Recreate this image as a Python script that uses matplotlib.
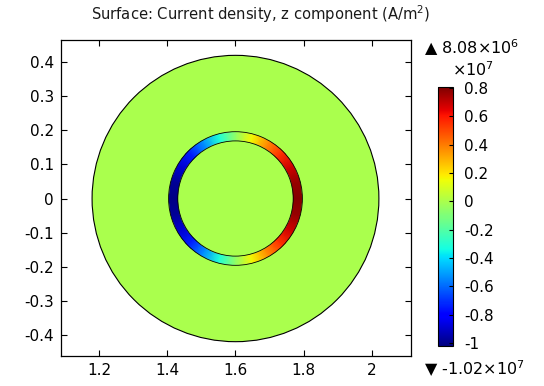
import numpy as np
import matplotlib
matplotlib.use("Agg")
from matplotlib import pyplot as plt
from matplotlib.patches import Circle, Wedge
from matplotlib.colors import Normalize
from matplotlib.cm import ScalarMappable

plt.rcParams['axes.unicode_minus'] = False
plt.rcParams['font.family'] = ['DejaVu Sans']

# geometry (m)
center = (1.6, 0.0)
r_outer = 0.42
r_ring_in = 0.169
r_ring_out = 0.196

# Jz on the ring (1e7 A/m^2) at each angle (deg)
ring_angle = [0, 15, 30, 45, 60, 75, 90, 105, 120, 135, 150, 165, 180,
              195, 210, 225, 240, 255, 270, 285, 300, 315, 330, 345, 360]
ring_jz = [0.80, 0.77, 0.68, 0.55, 0.37, 0.16, -0.06, -0.31, -0.53, -0.74, -0.89, -0.98, -1.01,
           -0.98, -0.89, -0.74, -0.53, -0.31, -0.06, 0.16, 0.37, 0.55, 0.68, 0.77, 0.80]
jz_background = 0.0
jz_max = 0.808
jz_min = -1.02

cb_ticks = [0.8, 0.6, 0.4, 0.2, 0, -0.2, -0.4, -0.6, -0.8, -1]
x_ticks = [1.2, 1.4, 1.6, 1.8, 2.0]
y_ticks = [-0.4, -0.3, -0.2, -0.1, 0, 0.1, 0.2, 0.3, 0.4]

cmap = plt.get_cmap('jet')
norm = Normalize(vmin=jz_min, vmax=jz_max)

fig = plt.figure(figsize=(5.44, 3.86), dpi=100)
ax = fig.add_axes([61/544, 30/386, 350/544, 316/386])

# outer domain
disk = Circle(center, r_outer, facecolor=cmap(norm(jz_background)),
              edgecolor='black', lw=0.8, zorder=1)
ax.add_patch(disk)

# ring, drawn a bit too wide then clipped to the exact annulus
th = np.deg2rad(np.array(ring_angle))
rr = np.array([r_ring_in - 0.006, r_ring_out + 0.01])
TH, RR = np.meshgrid(th, rr)
X = center[0] + RR * np.cos(TH)
Y = center[1] + RR * np.sin(TH)
C = np.vstack([ring_jz, ring_jz])
mesh = ax.pcolormesh(X, Y, C, cmap=cmap, norm=norm, shading='gouraud', zorder=2)
ring = Wedge(center, r_ring_out, 0, 360, width=r_ring_out - r_ring_in,
             facecolor='none', edgecolor='black', lw=0.6, zorder=3)
ax.add_patch(ring)
mesh.set_clip_path(ring)

ax.set_xlim(1.089, 2.114)
ax.set_ylim(-0.462, 0.465)
ax.set_xticks(x_ticks)
ax.set_xticklabels(['1.2', '1.4', '1.6', '1.8', '2'])
ax.set_yticks(y_ticks)
ax.set_yticklabels(['-0.4', '-0.3', '-0.2', '-0.1', '0', '0.1', '0.2', '0.3', '0.4'])
ax.tick_params(direction='in', length=4, width=0.8, top=True, right=True,
               labelsize=11, colors='black', pad=5)
for s in ax.spines.values():
    s.set_linewidth(0.9)

fig.text(261/544, 1 - 14/386, 'Surface: Current density, z component (A/m$^2$)',
         ha='center', va='center', fontsize=10.6, color='#1a1a1a')

# colorbar
cax = fig.add_axes([438/544, 40/386, 15/544, 259/386])
sm = ScalarMappable(norm=norm, cmap=cmap)
cb = fig.colorbar(sm, cax=cax)
cb.set_ticks(cb_ticks)
cb.set_ticklabels(['0.8', '0.6', '0.4', '0.2', '0', '-0.2', '-0.4', '-0.6', '-0.8', '-1'])
cb.ax.tick_params(direction='in', length=3, width=0.8, labelsize=11, pad=8)
cb.outline.set_linewidth(0.8)

fig.text(424/544, 1 - 48/386, '\u25b2 8.08\u00d710$^6$', ha='left', va='center', fontsize=11.5)
fig.text(452/544, 1 - 70/386, '\u00d710$^7$', ha='left', va='center', fontsize=11.5)
fig.text(424/544, 1 - 369/386, '\u25bc -1.02\u00d710$^7$', ha='left', va='center', fontsize=11.5)

fig.savefig('out.png', dpi=100)
